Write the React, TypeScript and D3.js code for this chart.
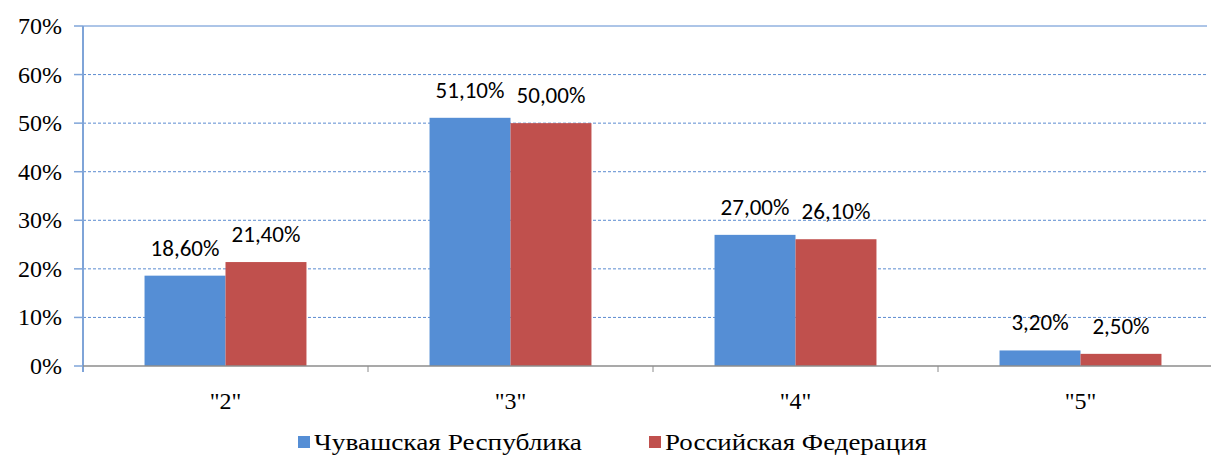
import React from "react";
import * as d3 from "d3";

const categories = ['"2"', '"3"', '"4"', '"5"'];
const seriesNames = ["Чувашская Республика", "Российская Федерация"];
const chuvashia = [18.6, 51.1, 27.0, 3.2];
const russia = [21.4, 50.0, 26.1, 2.5];
const yTicks = [0, 10, 20, 30, 40, 50, 60, 70];

const colors = ["#558ED5", "#C0504D"];

const W = 1211;
const H = 456;
const left = 83;
const right = 1223;
const top = 26;
const bottom = 366;

const App = () => {
  const x = d3.scaleBand().domain(categories).range([left, right]).paddingInner(0).paddingOuter(0);
  const y = d3.scaleLinear().domain([0, 70]).range([bottom, top]);
  const inner = d3.scaleBand().domain(["0", "1"]).range([0, x.bandwidth()]).paddingOuter(0.76).paddingInner(0);
  const series = [chuvashia, russia];
  const fmt = (v: number) => v.toFixed(2).replace(".", ",") + "%";

  return (
    <div style={{ position: "absolute", left: 0, top: 0, width: W, height: H, background: "#fff" }}>
      <svg width={W} height={H} style={{ display: "block" }}>
        <style>{`.ser { font-family: "Liberation Serif", "Times New Roman", serif; }
.cal { font-family: Carlito, Calibri, sans-serif; }`}</style>
        {/* grid */}
        {yTicks.filter((t) => t > 0).map((t) => (
          <line
            key={t}
            x1={left}
            x2={W - 4}
            y1={y(t)}
            y2={y(t)}
            stroke="#5B8BD0"
            strokeWidth={1}
            strokeDasharray={t === 70 ? undefined : "3,2"}
          />
        ))}
        {/* bars */}
        {categories.map((c, i) => (
          <g key={c}>
            {series.map((s, j) => {
              const bx = (x(c) || 0) + (inner(String(j)) || 0);
              return (
                <rect key={j} x={bx} y={y(s[i])} width={inner.bandwidth()} height={bottom - y(s[i])} fill={colors[j]} />
              );
            })}
            {series.map((s, j) => {
              const bx = (x(c) || 0) + (inner(String(j)) || 0) + inner.bandwidth() / 2;
              return (
                <text key={"l" + j} className="cal" x={bx} y={y(s[i]) - 20} textAnchor="middle" fontSize={23} fill="#000">
                  {fmt(s[i])}
                </text>
              );
            })}
          </g>
        ))}
        {/* y axis */}
        <line x1={left} x2={left} y1={top} y2={bottom + 6} stroke="#7FA4D8" strokeWidth={2} />
        {yTicks.map((t) => (
          <g key={t}>
            <line x1={left - 9} x2={left} y1={y(t)} y2={y(t)} stroke="#7FA4D8" strokeWidth={1.5} />
            <text className="ser" x={62} y={y(t) + 8} textAnchor="end" fontSize={24} fill="#000">
              {t}%
            </text>
          </g>
        ))}
        {/* x axis */}
        <line x1={left} x2={W} y1={bottom} y2={bottom} stroke="#8C8C8C" strokeWidth={1.5} />
        {categories.map((c, i) => (
          <g key={c}>
            {i > 0 && <line x1={x(c)} x2={x(c)} y1={bottom} y2={bottom + 6} stroke="#8C8C8C" strokeWidth={1} />}
            <text
              className="ser"
              x={(x(c) || 0) + x.bandwidth() / 2}
              y={bottom + 43}
              textAnchor="middle"
              fontSize={24}
              fill="#000"
            >
              {c}
            </text>
          </g>
        ))}
        {/* legend */}
        {seriesNames.map((n, j) => {
          const lx = j === 0 ? 298 : 649;
          return (
            <g key={n}>
              <rect x={lx} y={436} width={12} height={12} fill={colors[j]} />
              <text
                className="ser"
                x={lx + 16}
                y={450}
                fontSize={23}
                fill="#000"
                textLength={j === 0 ? 268 : 262}
                lengthAdjust="spacingAndGlyphs"
              >
                {n}
              </text>
            </g>
          );
        })}
      </svg>
    </div>
  );
};

export default App;
